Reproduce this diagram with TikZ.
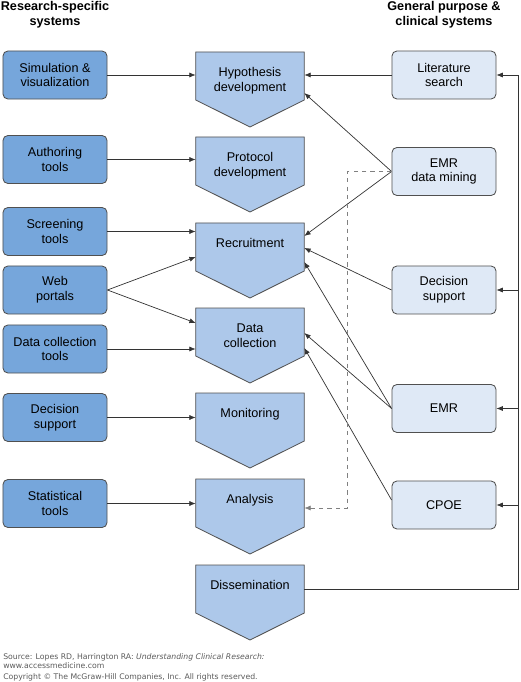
\documentclass[tikz,border=0pt]{standalone}
\usepackage{fontspec}
\setmainfont{Liberation Sans}
\newfontfamily\footfont{DejaVu Sans}
\usetikzlibrary{positioning, backgrounds, calc, arrows.meta}

\definecolor{srcblue}{RGB}{118,166,219}
\definecolor{stageblue}{RGB}{173,200,234}
\definecolor{sysblue}{RGB}{223,233,246}
\definecolor{edgegray}{RGB}{80,80,80}
\definecolor{footgray}{RGB}{90,90,90}

\begin{document}
\begin{tikzpicture}[
		x=0.025cm, y=-0.025cm,
		font=\fontsize{9}{10.6}\selectfont,
		% Rounded system boxes
		box/.style={rounded corners=3.5pt, draw=edgegray, line width=0.6pt,
			minimum width=2.6cm, minimum height=1.2cm, align=center, inner sep=1pt},
		src/.style={box, fill=srcblue},
		sys/.style={box, fill=sysblue},
		% Research stages (text node on top of a pentagon)
		stage/.style={anchor=north, text width=2.7cm, inner xsep=0pt, inner ysep=11pt, align=center},
		stage shape/.style={fill=stageblue, draw=edgegray, line width=0.6pt},
		% Connector styles
		arrow/.style={-{Latex[length=4.5pt, width=3.6pt]}, draw=black!80, line width=0.5pt},
		dash arrow/.style={arrow, dashed, draw=black!50},
		head/.style={font=\fontsize{9}{10.6}\selectfont\bfseries, align=center, inner sep=0pt},
		foot/.style={font=\footfont\fontsize{5.5}{6.6}\selectfont, text=footgray, align=left, inner sep=0pt}
		]
		
		\useasboundingbox (0,0) rectangle (520,682);
		
		% ==============================================================================
		% 1. COLUMN HEADINGS
		% ==============================================================================
		\node[head, anchor=north] (lefthead) at (55,1.5) {Research-specific\\systems};
		\node[head, anchor=north] (righthead) at (444,1.5) {General purpose \&\\clinical systems};
		
		% ==============================================================================
		% 2. RESEARCH-SPECIFIC SYSTEMS (left)
		% ==============================================================================
		\node[src] (sim) at (55,75) {Simulation \&\\visualization};
		\node[src] (auth) at (55,159.5) {Authoring\\tools};
		\node[src] (screen) at (55,231.5) {Screening\\tools};
		\node[src] (web) at (55,290) {Web\\portals};
		\node[src] (dct) at (55,349) {Data collection\\tools};
		\node[src] (dsup) at (55,417.5) {Decision\\support};
		\node[src] (stat) at (55,503.5) {Statistical\\tools};
		
		% ==============================================================================
		% 3. RESEARCH STAGES (middle)
		% ==============================================================================
		\node[stage] (hyp) at (250,52) {Hypothesis\\development};
		\node[stage] (proto) at (250,137) {Protocol\\development};
		\node[stage] (recr) at (250,223) {Recruitment};
		\node[stage] (data) at (250,308) {Data\\collection};
		\node[stage] (mon) at (250,393) {Monitoring};
		\node[stage] (ana) at (250,479) {Analysis};
		\node[stage] (diss) at (250,565) {Dissemination};
		\begin{scope}[on background layer]
			\foreach \s in {hyp, proto, recr, data, mon, ana, diss}
				\path[stage shape] (\s.north west) -- (\s.north east) -- ++(0,48)
					-- ($(\s.north)+(0,75)$) -- ($(\s.north west)+(0,48)$) -- cycle;
		\end{scope}
		
		% ==============================================================================
		% 4. GENERAL PURPOSE & CLINICAL SYSTEMS (right)
		% ==============================================================================
		\node[sys] (lit) at (444,75) {Literature\\search};
		\node[sys] (emrdm) at (444,171.5) {EMR\\data mining};
		\node[sys] (decsup) at (444,290) {Decision\\support};
		\node[sys] (emr) at (444,408.5) {EMR};
		\node[sys] (cpoe) at (444,505) {CPOE};
		
		% ==============================================================================
		% 5. ARROWS
		% ==============================================================================
		
		% Left systems into the stages
		\draw[arrow] (sim.east) -- (sim.east -| hyp.west);
		\draw[arrow] (auth.east) -- (auth.east -| proto.west);
		\draw[arrow] (screen.east) -- (screen.east -| recr.west);
		\draw[arrow] (web.east) -- ($(recr.north west)+(0,34)$);
		\draw[arrow] (web.east) -- ($(data.north west)+(0,15)$);
		\draw[arrow] (dct.east) -- (dct.east -| data.west);
		\draw[arrow] (dsup.east) -- (dsup.east -| mon.west);
		\draw[arrow] (stat.east) -- (stat.east -| ana.west);
		
		% Right systems into the stages
		\draw[arrow] (lit.west) -- (lit.west -| hyp.east);
		\draw[arrow] (emrdm.west) -- ($(hyp.north east)+(0,41)$);
		\draw[arrow] (emrdm.west) -- ($(recr.north east)+(0,13)$);
		\draw[arrow] (decsup.west) -- ($(recr.north east)+(0,25)$);
		\draw[arrow] (emr.west) -- ($(recr.north east)+(0,39)$);
		\draw[arrow] (emr.west) -- ($(data.north east)+(0,25)$);
		\draw[arrow] ($(cpoe.west)+(0,-5)$) -- ($(data.north east)+(0,40)$);
		\draw[dash arrow] (emrdm.west) -- ++(-44,0) |- ($(ana.north east)+(0,29)$);
		
		% Feedback from dissemination
		\coordinate (bus) at (518,75);
		\draw[draw=black!80, line width=0.5pt] ($(diss.north east)+(0,24)$) -| (bus);
		\draw[arrow] (bus) -- (lit.east);
		\draw[arrow] (bus |- decsup.east) -- (decsup.east);
		\draw[arrow] (bus |- emr.east) -- (emr.east);
		\draw[arrow] (bus |- cpoe.east) -- (cpoe.east);
		
		% ==============================================================================
		% 6. SOURCE LINE
		% ==============================================================================
		\node[foot, anchor=north west] (source) at (3,653) {Source: Lopes RD, Harrington RA: \textit{Understanding Clinical Research:}\\www.accessmedicine.com};
		\node[foot, below right=3pt and 0pt of source.south west] (copyright) {Copyright \textcopyright{} The McGraw-Hill Companies, Inc. All rights reserved.};
	\end{tikzpicture}
\end{document}
